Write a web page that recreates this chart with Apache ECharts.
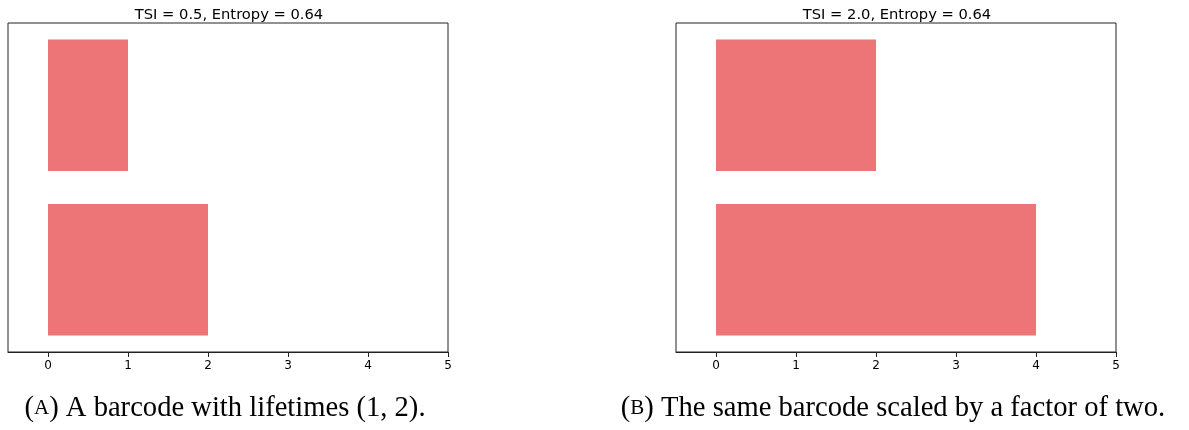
<!DOCTYPE html>
<html>
<head>
<meta charset="utf-8">
<script src="https://cdn.jsdelivr.net/npm/echarts@6/dist/echarts.min.js"></script>
<style>
  html, body { margin: 0; padding: 0; background: #fff; }
  #chart { width: 1189px; height: 430px; }
</style>
</head>
<body>
<div id="chart"></div>
<script>
// ---- data ----
const barNames = ['bar 1', 'bar 2'];            // top to bottom
const lifetimesA = [1, 2];
const lifetimesB = [2, 4];
const xTicks = [0, 1, 2, 3, 4, 5];
const panelTitles = ['TSI = 0.5, Entropy = 0.64', 'TSI = 2.0, Entropy = 0.64'];
const captionLetters = ['A', 'B'];
const captionTexts = [' A barcode with lifetimes (1, 2).', ' The same barcode scaled by a factor of two.'];

// ---- layout ----
const grids = [
  { left: 8, top: 23, width: 440, height: 329 },
  { left: 676, top: 23, width: 440, height: 329 }
];
const barColor = '#EE7577';
const sansFont = 'DejaVu Sans';
const serifFont = 'Liberation Serif';

const chart = echarts.init(document.getElementById('chart'), null, { renderer: 'canvas' });

const seriesData = [lifetimesA, lifetimesB];

const option = {
  animation: false,
  backgroundColor: '#ffffff',
  title: panelTitles.map((t, i) => ({
    text: t,
    left: grids[i].left + grids[i].width / 2 - 4,
    textAlign: 'center',
    top: 3,
    textStyle: { fontFamily: sansFont, fontSize: 14.7, fontWeight: 'normal', color: '#000' }
  })),
  grid: grids.map(g => Object.assign({
    show: true, borderColor: '#222', borderWidth: 1, backgroundColor: 'transparent', containLabel: false
  }, g)),
  xAxis: grids.map((g, i) => ({
    type: 'value',
    gridIndex: i,
    min: -0.5,
    max: 5,
    splitLine: { show: false },
    axisLine: { show: true, onZero: false, lineStyle: { color: '#222', width: 1 } },
    axisTick: { show: true, length: 5, lineStyle: { color: '#222' }, customValues: xTicks },
    axisLabel: {
      show: true, customValues: xTicks, margin: 8,
      fontFamily: sansFont, fontSize: 12, color: '#000'
    }
  })),
  yAxis: grids.map((g, i) => ({
    type: 'category',
    gridIndex: i,
    data: barNames,
    inverse: true,
    axisLine: { show: false },
    axisTick: { show: false },
    axisLabel: { show: false },
    splitLine: { show: false }
  })),
  series: seriesData.map((d, i) => ({
    type: 'bar',
    xAxisIndex: i,
    yAxisIndex: i,
    data: d,
    barWidth: '80%',
    itemStyle: { color: barColor },
    silent: true
  })),
  graphic: captionTexts.map((t, i) => ({
    type: 'text',
    x: grids[i].left + grids[i].width / 2 - 3,
    y: 408,
    style: {
      text: '{n|(}{sc|' + captionLetters[i] + '}{n|)' + t + '}',
      textAlign: 'center',
      textVerticalAlign: 'middle',
      rich: {
        n: { fontFamily: serifFont, fontSize: 28.6, fill: '#000', color: '#000' },
        sc: { fontFamily: serifFont, fontSize: 21, fill: '#000', color: '#000' }
      }
    }
  }))
};

chart.setOption(option);
</script>
</body>
</html>
